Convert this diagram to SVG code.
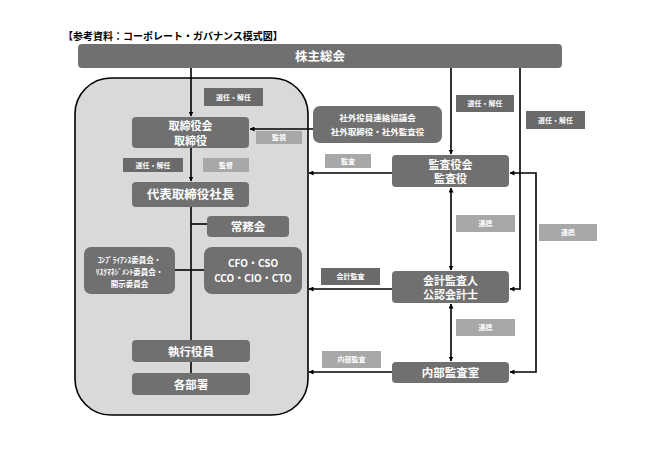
<svg xmlns="http://www.w3.org/2000/svg" width="648" height="458" viewBox="0 0 648 458">
<style>
text{font-family:"Noto Sans CJK JP","Noto Sans CJK SC",sans-serif;font-weight:bold;fill:#fff;text-anchor:middle}
.box{fill:#707070}
.dl{fill:#6a6a6a}
.ll{fill:#a8a8a8}
.lt{font-size:7px}
.bt{font-size:12.5px}
.two{font-size:11px}
.ln{stroke:#000;stroke-width:1.6;fill:none}
</style>
<defs>
<marker id="ah" viewBox="0 0 10 10" refX="9" refY="5" markerWidth="5" markerHeight="5" orient="auto-start-reverse" markerUnits="userSpaceOnUse">
<path d="M0,0 L10,5 L0,10 z" fill="#000"/>
</marker>
</defs>
<rect width="648" height="458" fill="#fff"/>
<text x="63" y="40" style="font-size:10px;fill:#000;text-anchor:start">【参考資料：コーポレート・ガバナンス模式図】</text>

<g id="outer"><rect x="75" y="78" width="233" height="337" rx="36" fill="#d9d9d9" stroke="#000" stroke-width="1.6"/></g>

<g id="connectors">
<line class="ln" x1="191" y1="68" x2="191" y2="116" marker-end="url(#ah)"/>
<line class="ln" x1="313" y1="129" x2="250" y2="129" marker-end="url(#ah)"/>
<line class="ln" x1="191" y1="148" x2="191" y2="181" marker-end="url(#ah)"/>
<line class="ln" x1="191" y1="207" x2="191" y2="375"/>
<line class="ln" x1="191" y1="224" x2="207" y2="224"/>
<line class="ln" x1="175" y1="270" x2="204" y2="270"/>
<line class="ln" x1="392" y1="173" x2="309" y2="173" marker-end="url(#ah)"/>
<line class="ln" x1="392" y1="289" x2="309" y2="289" marker-end="url(#ah)"/>
<line class="ln" x1="392" y1="372" x2="309" y2="372" marker-end="url(#ah)"/>
<line class="ln" x1="451" y1="68" x2="451" y2="154" marker-end="url(#ah)"/>
<line class="ln" x1="451" y1="188" x2="451" y2="270" marker-start="url(#ah)" marker-end="url(#ah)"/>
<line class="ln" x1="451" y1="304" x2="451" y2="361" marker-start="url(#ah)" marker-end="url(#ah)"/>
<path class="ln" d="M520,68 V289 H510" marker-end="url(#ah)"/>
<path class="ln" d="M510,173 H536 V372 H510" marker-start="url(#ah)" marker-end="url(#ah)"/>
</g>

<g id="shareholders"><rect x="78" y="44" width="484" height="24" rx="4" class="box"/><text x="320" y="61" class="bt">株主総会</text></g>

<g id="board"><rect x="132" y="117" width="117" height="31" rx="4" class="box"/><text x="190.5" y="130" class="two">取締役会</text><text x="190.5" y="144.5" class="two">取締役</text></g>
<g id="president"><rect x="132" y="182" width="117" height="25" rx="4" class="box"/><text x="190.5" y="199" class="bt">代表取締役社長</text></g>
<g id="jomukai"><rect x="207" y="216" width="82" height="21" rx="4" class="box"/><text x="248" y="231" style="font-size:11.5px">常務会</text></g>
<g id="cxo"><rect x="204" y="247" width="98" height="47" rx="8" class="box"/><text x="253" y="267" style="font-size:10px">CFO・CSO</text><text x="253" y="282" style="font-size:10px">CCO・CIO・CTO</text></g>
<g id="committees"><rect x="84" y="247" width="91" height="47" rx="7" class="box"/><text x="129.5" y="263" style="font-size:7.5px">ｺﾝﾌﾟﾗｲｱﾝｽ委員会・</text><text x="129.5" y="275" style="font-size:7.5px">ﾘｽｸﾏﾈｼﾞﾒﾝﾄ委員会・</text><text x="129.5" y="287" style="font-size:7.5px">開示委員会</text></g>
<g id="officers"><rect x="132" y="340" width="118" height="22" rx="4" class="box"/><text x="191" y="356" style="font-size:11.5px">執行役員</text></g>
<g id="departments"><rect x="132" y="373" width="118" height="22" rx="4" class="box"/><text x="191" y="389" style="font-size:11.5px">各部署</text></g>

<g id="outside"><rect x="313" y="106" width="129" height="37" rx="7" class="box"/><text x="377.5" y="121" style="font-size:8.5px">社外役員連絡協議会</text><text x="377.5" y="135" style="font-size:8.5px">社外取締役・社外監査役</text></g>
<g id="auditboard"><rect x="392" y="155" width="117" height="32" rx="4" class="box"/><text x="450.5" y="168.5" class="two">監査役会</text><text x="450.5" y="183" class="two">監査役</text></g>
<g id="accountant"><rect x="392" y="271" width="117" height="32" rx="4" class="box"/><text x="450.5" y="284.5" class="two">会計監査人</text><text x="450.5" y="299" class="two">公認会計士</text></g>
<g id="internal"><rect x="392" y="362" width="117" height="21" rx="4" class="box"/><text x="450.5" y="377" style="font-size:11.5px">内部監査室</text></g>

<g id="labels">
<rect x="204" y="88" width="59" height="18" class="dl"/><text x="233.5" y="99.5" class="lt">選任・解任</text>
<rect x="256" y="131" width="46" height="13" class="ll"/><text x="279" y="140" class="lt">監視</text>
<rect x="123" y="158" width="60" height="14" class="dl"/><text x="153" y="167.5" class="lt">選任・解任</text>
<rect x="203" y="158" width="46" height="14" class="ll"/><text x="226" y="167.5" class="lt">監督</text>
<rect x="456" y="95" width="58" height="17" class="dl"/><text x="485" y="106" class="lt">選任・解任</text>
<rect x="526" y="111" width="59" height="18" class="dl"/><text x="555.5" y="122.5" class="lt">選任・解任</text>
<rect x="325" y="154" width="46" height="14" class="ll"/><text x="348" y="163.5" class="lt">監査</text>
<rect x="456" y="215" width="59" height="17" class="ll"/><text x="485.5" y="226" class="lt">連携</text>
<rect x="539" y="224" width="58" height="17" class="ll"/><text x="568" y="235" class="lt">連携</text>
<rect x="321" y="268" width="59" height="17" class="dl"/><text x="350.5" y="279" class="lt">会計監査</text>
<rect x="456" y="319" width="59" height="17" class="ll"/><text x="485.5" y="330" class="lt">連携</text>
<rect x="322" y="351" width="59" height="17" class="ll"/><text x="351.5" y="362" class="lt">内部監査</text>
</g>
</svg>
